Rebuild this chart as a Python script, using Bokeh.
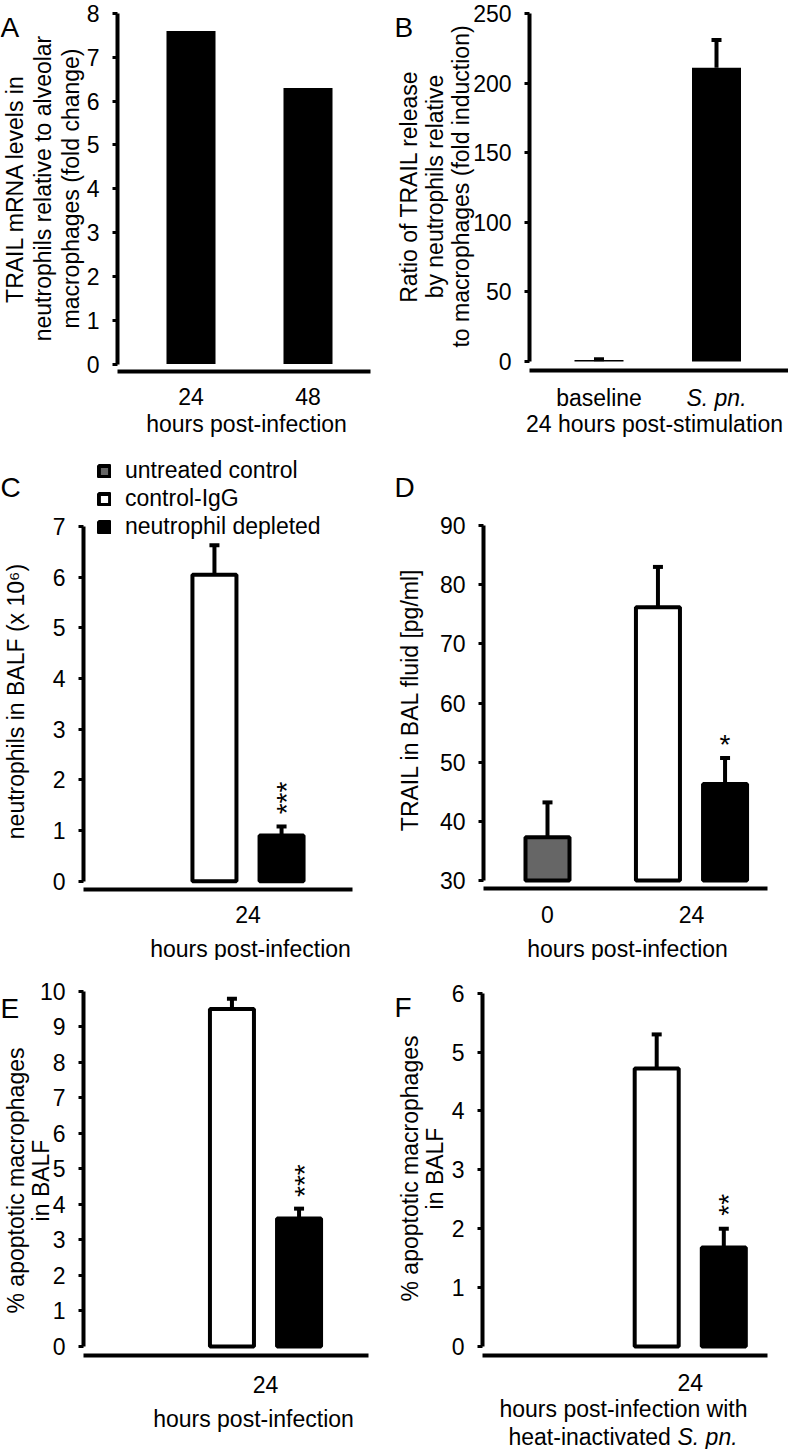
import math
from bokeh.plotting import figure
from bokeh.models import (Range1d, FixedTicker, Label, Whisker, TeeHead, LinearAxis,
                          ColumnDataSource, Legend, LegendItem)
from bokeh.layouts import column, row
from bokeh.embed import file_html
from bokeh.resources import INLINE

FONT = "Liberation Sans"
FS = "23px"

# ---------------- data ----------------
# Panel A: TRAIL mRNA in neutrophils relative to alveolar macrophages
a_hours = ["24", "48"]
a_fold = [7.6, 6.3]
a_yticks = [0, 1, 2, 3, 4, 5, 6, 7, 8]

# Panel B: ratio of TRAIL release neutrophils / macrophages
b_conditions = ["baseline", "S. pn."]
b_ratio = [1.0, 211.0]
b_err = [0.6, 20.0]
b_yticks = [0, 50, 100, 150, 200, 250]

# treatment groups (panels C-F)
groups = ["untreated control", "control-IgG", "neutrophil depleted"]
group_colors = ["#666666", "white", "black"]
group_hours = ["0", "24", "24"]

# Panel C: neutrophils in BALF (x 10^6)
c_groups = ["control-IgG", "neutrophil depleted"]
c_neutrophils = [6.05, 0.9]
c_err = [0.58, 0.18]
c_sig = "***"
c_yticks = [0, 1, 2, 3, 4, 5, 6, 7]

# Panel D: TRAIL in BAL fluid [pg/ml]
d_groups = ["untreated control", "control-IgG", "neutrophil depleted"]
d_trail = [37.3, 76.2, 46.3]
d_err = [5.9, 6.8, 4.4]
d_sig = "*"
d_yticks = [30, 40, 50, 60, 70, 80, 90]

# Panel E: % apoptotic macrophages in BALF
e_groups = ["control-IgG", "neutrophil depleted"]
e_apoptotic = [9.5, 3.6]
e_err = [0.29, 0.28]
e_sig = "***"
e_yticks = [0, 1, 2, 3, 4, 5, 6, 7, 8, 9, 10]

# Panel F: % apoptotic macrophages in BALF (heat-inactivated S. pn.)
f_groups = ["control-IgG", "neutrophil depleted"]
f_apoptotic = [4.72, 1.68]
f_err = [0.58, 0.32]
f_sig = "**"
f_yticks = [0, 1, 2, 3, 4, 5, 6]

# ---------------- layout helpers ----------------
HOUR_SLOTS = ["0", "24"]
GROUP_OFFSET = {"untreated control": 0.0, "control-IgG": -0.233, "neutrophil depleted": 0.233}
BAR_W = 0.3056


def xpos(g):
    return HOUR_SLOTS.index(group_hours[groups.index(g)]) + GROUP_OFFSET[g]


def make_fig(w, h, x0_px, unit_px, ylo, yhi, yaxis_px, xend_px, xline_py,
             yticks, xticks, xlabels, xstandoff):
    s = (ylo[1] - yhi[1]) / (yhi[0] - ylo[0])
    y_start = ylo[0] - (h - ylo[1]) / s
    y_end = yhi[0] + yhi[1] / s
    x_start = -x0_px / unit_px
    x_end = (w - x0_px) / unit_px
    p = figure(width=w, height=h, x_range=Range1d(x_start, x_end),
               y_range=Range1d(y_start, y_end), x_axis_location=None,
               y_axis_location=None, output_backend="svg", toolbar_location=None,
               min_border=0)
    p.grid.visible = False
    p.outline_line_color = None
    p.background_fill_color = "white"
    p.border_fill_color = "white"
    yax_loc = (yaxis_px - x0_px) / unit_px
    ya = LinearAxis(fixed_location=yax_loc, bounds=(yticks[0], yticks[-1]),
                    ticker=FixedTicker(ticks=yticks))
    ya.axis_line_width = 4
    ya.axis_line_color = "black"
    ya.major_tick_line_width = 3
    ya.major_tick_line_color = "black"
    ya.major_tick_in = 0
    ya.major_tick_out = 5
    ya.minor_tick_line_color = None
    ya.major_label_standoff = 13
    ya.major_label_text_font = FONT
    ya.major_label_text_font_size = FS
    ya.major_label_text_color = "black"
    p.add_layout(ya, "left")
    xa = LinearAxis(fixed_location=ylo[0] - (xline_py - ylo[1]) / s,
                    bounds=(yax_loc, (xend_px - x0_px) / unit_px),
                    ticker=FixedTicker(ticks=xticks))
    xa.major_label_overrides = {t: lab for t, lab in zip(xticks, xlabels)}
    xa.major_label_standoff = xstandoff
    xa.axis_line_width = 4
    xa.axis_line_color = "black"
    xa.major_tick_line_color = None
    xa.minor_tick_line_color = None
    xa.major_label_text_font = FONT
    xa.major_label_text_font_size = FS
    xa.major_label_text_color = "black"
    p.add_layout(xa, "below")
    return p, s, unit_px


def txt(p, text, x, y, size=23, angle=0.0, align="center", baseline="middle",
        style="normal", xu="canvas", yu="canvas"):
    p.add_layout(Label(x=x, y=y, x_units=xu, y_units=yu, text=text, angle=angle,
                       angle_units="rad", text_align=align, text_baseline=baseline,
                       text_font=FONT, text_font_size=f"{size}px",
                       text_font_style=style, text_color="black"))


def add_err(p, xs, vals, errs):
    src = ColumnDataSource(dict(base=xs, lower=vals,
                                upper=[v + e for v, e in zip(vals, errs)]))
    p.add_layout(Whisker(source=src, base="base", lower="lower", upper="upper",
                         dimension="height", line_color="black", line_width=4,
                         upper_head=TeeHead(size=10, line_color="black", line_width=4),
                         lower_head=None, level="glyph"))


def group_bars(p, gnames, vals, errs, bottom):
    rend = {}
    for g in groups:
        if g in gnames:
            i = gnames.index(g)
            tops = [vals[i]]
        else:
            tops = [float("nan")]  # no measurement: legend entry only
        rend[g] = p.vbar(x=[xpos(g)], top=tops, bottom=bottom, width=BAR_W,
                         fill_color=group_colors[groups.index(g)],
                         line_color="black", line_width=4)
    add_err(p, [xpos(g) for g in gnames], vals, errs)
    return rend


def sig(fig, g, val, err, text, rotated, up_px, side_px=0):
    p, s, unit = fig
    if rotated:
        txt(p, text, xpos(g) + side_px / unit, val + err + up_px / s, size=28,
            angle=math.pi / 2, xu="data", yu="data")
    else:
        txt(p, text, xpos(g) + side_px / unit, val + err + up_px / s, size=28,
            xu="data", yu="data")


def ylabels(p, lines, xs, y):
    for s, x in zip(lines, xs):
        txt(p, s, x, y, angle=math.pi / 2)


# ---------------- Panel A ----------------
a_x = list(range(len(a_hours)))
figA = make_fig(394, 440, 190.5, 117, (0, 363.5), (8, 13), 117, 370, 371,
                a_yticks, a_x, a_hours, 10)
pA = figA[0]
pA.vbar(x=a_x, top=a_fold, bottom=0, width=0.419, fill_color="black", line_color=None)
txt(pA, "hours post-infection", 246, 423)
ylabels(pA, ["TRAIL mRNA levels in", "neutrophils relative to alveolar",
             "macrophages (fold change)"], [14, 42, 70], 188)
txt(pA, "A", 0, 27, size=28, align="left", baseline="alphabetic")

# ---------------- Panel B ----------------
b_x = list(range(len(b_conditions)))
figB = make_fig(394, 440, 204.5, 117.5, (0, 361), (250, 13), 135, 394, 370,
                b_yticks, [], [], 10)
pB = figB[0]
pB.vbar(x=b_x, top=b_ratio, bottom=0, width=0.417, fill_color="black", line_color=None)
add_err(pB, b_x, b_ratio, b_err)
txt(pB, b_conditions[0], b_x[0], 397, xu="data")
txt(pB, b_conditions[1], b_x[1], 397, xu="data", style="italic")
txt(pB, "24 hours post-stimulation", 260, 423)
ylabels(pB, ["Ratio of TRAIL release", "by neutrophils relative",
             "to macrophages (fold induction)"], [14, 40, 66], 186)
txt(pB, "B", 0, 27, size=28, align="left", baseline="alphabetic")

# ---------------- Panel C ----------------
figC = make_fig(394, 520, 103.5, 144, (0, 440.7), (7, 86), 83, 352, 449,
                c_yticks, [1], ["24"], 10)
pC = figC[0]
rC = group_bars(pC, c_groups, c_neutrophils, c_err, 0)
sig(figC, c_groups[1], c_neutrophils[1], c_err[1], c_sig, True, 28.5, 5)
txt(pC, "hours post-infection", 250, 508)
ylabels(pC, ["neutrophils in BALF (x 10\u2076)"], [15], 261)
txt(pC, "C", 0, 47, size=28, align="left", baseline="alphabetic")
legend = Legend(items=[LegendItem(label=g, renderers=[rC[g]]) for g in groups],
                location=(97, 420), orientation="vertical", padding=0, margin=0,
                spacing=1, glyph_width=14, glyph_height=14, label_standoff=14,
                label_height=26, label_text_font=FONT, label_text_font_size=FS,
                label_text_color="black",
                border_line_color=None, background_fill_alpha=0)
pC.add_layout(legend)

# ---------------- Panel D ----------------
figD = make_fig(394, 520, 153, 144, (30, 440), (90, 85), 89, 373, 448,
                d_yticks, [0, 1], HOUR_SLOTS, 11)
pD = figD[0]
group_bars(pD, d_groups, d_trail, d_err, 30)
sig(figD, d_groups[2], d_trail[2], d_err[2], d_sig, False, 14)
txt(pD, "hours post-infection", 233, 508)
ylabels(pD, ["TRAIL in BAL fluid [pg/ml]"], [15], 259)
txt(pD, "D", 0, 47, size=28, align="left", baseline="alphabetic")

# ---------------- Panel E ----------------
figE = make_fig(394, 489, 121, 144, (0, 386), (10, 30.7), 83, 368, 395,
                e_yticks, [1], ["24"], 14)
pE = figE[0]
group_bars(pE, e_groups, e_apoptotic, e_err, 0)
sig(figE, e_groups[1], e_apoptotic[1], e_err[1], e_sig, True, 28, 5)
txt(pE, "hours post-infection", 253, 458)
ylabels(pE, ["% apoptotic macrophages", "in BALF"], [15, 40], 220)
txt(pE, "E", 0, 48, size=28, align="left", baseline="alphabetic")

# ---------------- Panel F ----------------
figF = make_fig(394, 489, 151.75, 144, (0, 386), (6, 32.7), 88, 373, 395,
                f_yticks, [1], ["24"], 12)
pF = figF[0]
group_bars(pF, f_groups, f_apoptotic, f_err, 0)
sig(figF, f_groups[1], f_apoptotic[1], f_err[1], f_sig, True, 24, 5)
txt(pF, "hours post-infection with", 229, 448)
txt(pF, "heat-inactivated ", 114, 476, align="left")
txt(pF, "S. pn.", 283, 476, align="left", style="italic")
ylabels(pF, ["% apoptotic macrophages", "in BALF"], [15, 40], 208)
txt(pF, "F", 0, 47, size=28, align="left", baseline="alphabetic")

layout = column(row(pA, pB), row(pC, pD), row(pE, pF))
open("out.html", "w").write(file_html(layout, INLINE))
